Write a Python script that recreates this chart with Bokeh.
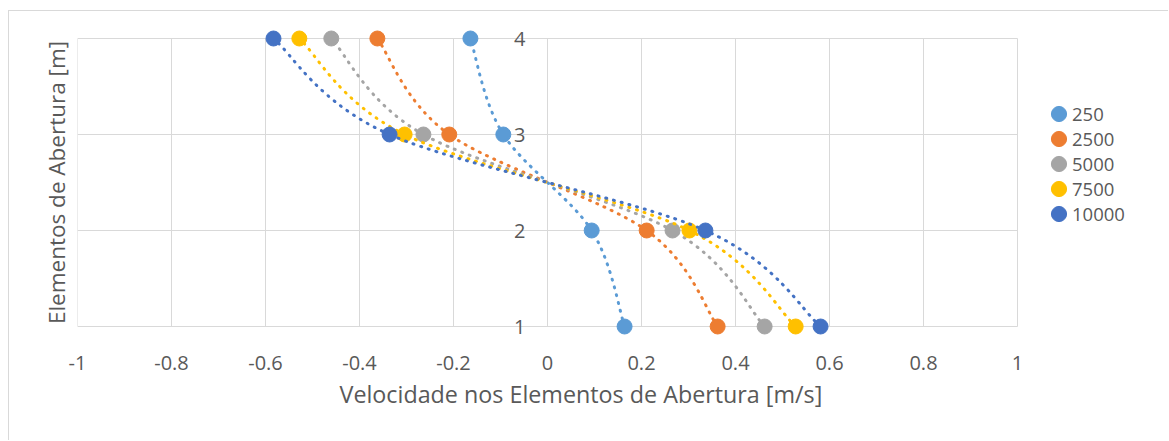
from bokeh.plotting import figure
from bokeh.models import FixedTicker, Legend, LegendItem, ColumnDataSource, Title
from bokeh.core.properties import value
from bokeh.embed import file_html
from bokeh.resources import INLINE

# ---- data ----
elementos = [1, 2, 3, 4]
series_names = ["250", "2500", "5000", "7500", "10000"]
v250 = [0.164, 0.094, -0.094, -0.164]
v2500 = [0.362, 0.211, -0.209, -0.362]
v5000 = [0.462, 0.266, -0.264, -0.460]
v7500 = [0.528, 0.302, -0.304, -0.528]
v10000 = [0.581, 0.336, -0.336, -0.583]
series_values = [v250, v2500, v5000, v7500, v10000]
colors = ["#5B9BD5", "#ED7D31", "#A5A5A5", "#FFC000", "#4472C4"]
x_ticks = [-1, -0.8, -0.6, -0.4, -0.2, 0, 0.2, 0.4, 0.6, 0.8, 1]
x_tick_labels = ["-1", "-0.8", "-0.6", "-0.4", "-0.2", "0", "0.2", "0.4", "0.6", "0.8", "1"]
y_ticks = [1, 2, 3, 4]
y_tick_labels = ["1", "2", "3", "4"]
x_title = "Velocidade nos Elementos de Abertura [m/s]"
y_title = "Elementos de Abertura [m]"

FONT = "Open Sans"
TXT = "#595959"
GRID = "#d9d9d9"

# layout: plot area 940 px for the x ticks span; frame extended to the right
# edge so that the legend (drawn inside the frame) is not clipped
PLOT_W = 940
FRAME_W = 1092
PAD = 0.15625
x_end = x_ticks[0] + (x_ticks[-1] - x_ticks[0]) * FRAME_W / PLOT_W

p = figure(width=1160, height=430, x_range=(x_ticks[0], x_end),
           y_range=(y_ticks[0] - PAD, y_ticks[-1] + PAD),
           output_backend="svg", toolbar_location=None,
           min_border_left=68, min_border_right=0,
           min_border_top=12, min_border_bottom=100)
p.styles = {"margin-left": "8px", "margin-top": "10px",
            "border-left": "1px solid #d9d9d9", "border-top": "1px solid #d9d9d9"}
p.background_fill_color = "white"
p.border_fill_color = "white"
p.outline_line_color = None

# grid lines drawn over the plot area only
p.xgrid.visible = False
p.ygrid.visible = False
p.segment(x0=x_ticks, y0=[y_ticks[0]] * len(x_ticks),
          x1=x_ticks, y1=[y_ticks[-1]] * len(x_ticks),
          line_color=GRID, line_width=1)
p.segment(x0=[x_ticks[0]] * len(y_ticks), y0=y_ticks,
          x1=[x_ticks[-1]] * len(y_ticks), y1=y_ticks,
          line_color=GRID, line_width=1)

# x axis
xa = p.xaxis[0]
xa.ticker = FixedTicker(ticks=x_ticks)
xa.major_label_overrides = {t: l for t, l in zip(x_ticks, x_tick_labels)}
xa.major_tick_out = 0
xa.major_tick_in = 0
xa.minor_tick_out = 0
xa.minor_tick_in = 0
xa.axis_line_color = None
xa.major_label_text_font = FONT
xa.major_label_text_font_size = "20px"
xa.major_label_text_color = TXT
xa.major_label_standoff = 14

# x axis title (Excel centres it on the chart, not the plot area)
xt = Title(text=x_title, align="left", offset=262, standoff=7,
           text_font=FONT, text_font_size="23.3px", text_font_style="normal",
           text_color=TXT)
p.add_layout(xt, "below")

# y axis (title only; tick labels drawn at x=0)
ya = p.yaxis[0]
ya.ticker = FixedTicker(ticks=[])
ya.major_tick_out = 0
ya.major_tick_in = 0
ya.minor_tick_out = 0
ya.minor_tick_in = 0
ya.major_label_standoff = 0
ya.axis_line_color = None
ya.axis_label = y_title
ya.axis_label_text_font = FONT
ya.axis_label_text_font_size = "22.5px"
ya.axis_label_text_font_style = "normal"
ya.axis_label_text_color = TXT
ya.axis_label_standoff = 6

# y tick labels next to the vertical axis at x = 0
ysrc = ColumnDataSource(dict(x=[0] * len(y_ticks), y=y_ticks, t=y_tick_labels))
p.text(x="x", y="y", text="t", source=ysrc, x_offset=-22,
       text_align="right", text_baseline="middle",
       text_font=value(FONT), text_font_size="20px", text_color=TXT)

# series: smoothed dotted lines (Bezier through the points) + round markers
items = []
for name, vals, col in zip(series_names, series_values, colors):
    n = len(vals)
    x0, y0, x1, y1, cx0, cy0, cx1, cy1 = [], [], [], [], [], [], [], []
    for i in range(n - 1):
        a = max(i - 1, 0)
        b = min(i + 2, n - 1)
        x0.append(vals[i]); y0.append(elementos[i])
        x1.append(vals[i + 1]); y1.append(elementos[i + 1])
        cx0.append(vals[i] + (vals[i + 1] - vals[a]) / 6.0)
        cy0.append(elementos[i] + (elementos[i + 1] - elementos[a]) / 6.0)
        cx1.append(vals[i + 1] - (vals[b] - vals[i]) / 6.0)
        cy1.append(elementos[i + 1] - (elementos[b] - elementos[i]) / 6.0)
    bsrc = ColumnDataSource(dict(x0=x0, y0=y0, x1=x1, y1=y1,
                                 cx0=cx0, cy0=cy0, cx1=cx1, cy1=cy1))
    p.bezier(x0="x0", y0="y0", x1="x1", y1="y1", cx0="cx0", cy0="cy0",
             cx1="cx1", cy1="cy1", source=bsrc, line_color=col,
             line_width=3, line_dash="1 7", line_cap="round")
    r = p.ellipse(x=vals, y=elementos, width=15, height=15,
                  width_units="screen", height_units="screen",
                  fill_color=col, line_color=col)
    items.append(LegendItem(label=name, renderers=[r]))

legend = Legend(items=items, location=(972, 115))
legend.margin = 0
legend.padding = 0
legend.border_line_color = None
legend.background_fill_alpha = 0
legend.glyph_width = 19
legend.glyph_height = 19
legend.label_height = 20
legend.spacing = 0
legend.label_standoff = 4
legend.label_text_font = FONT
legend.label_text_font_size = "18.5px"
legend.label_text_color = TXT
legend.label_text_baseline = "middle"
p.add_layout(legend)

open("out.html", "w").write(file_html(p, INLINE))
